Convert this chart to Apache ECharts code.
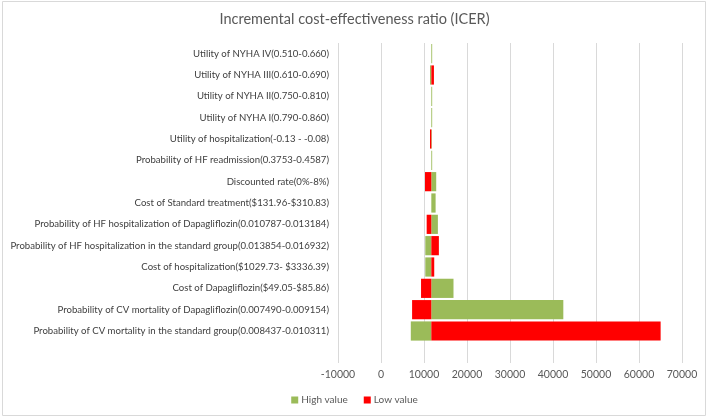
<!DOCTYPE html>
<html>
<head>
<meta charset="utf-8">
<script src="https://cdn.jsdelivr.net/npm/echarts@6/dist/echarts.min.js"></script>
<style>
html,body{margin:0;padding:0;background:#fff;}
#chart{width:709px;height:418px;}
</style>
</head>
<body>
<div id="chart"></div>
<script>
// Categories, displayed top to bottom
var categories = [
  "Utility of NYHA IV(0.510-0.660)",
  "Utility of NYHA III(0.610-0.690)",
  "Utility of NYHA II(0.750-0.810)",
  "Utility of NYHA I(0.790-0.860)",
  "Utility of hospitalization(-0.13 - -0.08)",
  "Probability of HF readmission(0.3753-0.4587)",
  "Discounted rate(0%-8%)",
  "Cost of Standard treatment($131.96-$310.83)",
  "Probability of HF hospitalization of Dapagliflozin(0.010787-0.013184)",
  "Probability of HF hospitalization in the standard group(0.013854-0.016932)",
  "Cost of hospitalization($1029.73- $3336.39)",
  "Cost of Dapagliflozin($49.05-$85.86)",
  "Probability of CV mortality of Dapagliflozin(0.007490-0.009154)",
  "Probability of CV mortality in the standard group(0.008437-0.010311)"
];
var baseICER = 11700;
var highValues = [11900, 11390, 11900, 11900, 11850, 11900, 12840, 12700, 13230, 10300, 10300, 16860, 42400, 6930];
var lowValues  = [11700, 12310, 11700, 11700, 11390, 11700, 10230, 11700, 10620, 13460, 12380, 9310, 7230, 65030];
var xTicks = [-10000, 0, 10000, 20000, 30000, 40000, 50000, 60000, 70000];

var FONT = 'Lato';
var cats = categories.concat(['']);
function offs(arr){ return arr.map(function(v){ return Math.min(v, baseICER); }).concat([null]); }
function lens(arr){ return arr.map(function(v){ return Math.abs(v - baseICER); }).concat([null]); }

var chart = echarts.init(document.getElementById('chart'), null, {renderer:'canvas'});
chart.setOption({
  animation:false,
  textStyle:{fontFamily:FONT},
  graphic:[{type:'rect', shape:{x:2.5,y:1.5,width:703,height:414}, style:{fill:'none', stroke:'#d9d9d9', lineWidth:1}, silent:true}],
  title:{text:'Incremental cost-effectiveness ratio (ICER)', left:'center', top:7,
    textStyle:{fontFamily:FONT, fontSize:14.5, fontWeight:'normal', color:'#595959'}},
  legend:{bottom:8, left:'center', itemWidth:7, itemHeight:7, itemGap:16,
    data:[{name:'High value', icon:'rect'},{name:'Low value', icon:'rect'}],
    textStyle:{fontFamily:FONT, fontSize:10, color:'#595959', padding:[0,0,0,-2]}},
  grid:{left:338, right:27, top:43, bottom:55, containLabel:false},
  xAxis:{type:'value', min:xTicks[0], max:xTicks[xTicks.length-1], interval:10000,
    axisLine:{show:false}, axisTick:{show:false},
    splitLine:{show:true, lineStyle:{color:'#d9d9d9', width:1}},
    axisLabel:{fontFamily:FONT, fontSize:10.5, color:'#595959', margin:6,
      formatter:function(v){ return String(v); }}},
  yAxis:{type:'category', data:cats, inverse:true,
    axisLine:{show:false}, axisTick:{show:false},
    axisLabel:{fontFamily:FONT, fontSize:9.6, color:'#404040', margin:9, interval:0}},
  series:[
    {name:'hOff', type:'bar', stack:'h', data:offs(highValues), itemStyle:{color:'rgba(0,0,0,0)'}, silent:true, barCategoryGap:'10%', barGap:'-100%'},
    {name:'High value', type:'bar', stack:'h', data:lens(highValues), itemStyle:{color:'#9BBB59'}, barGap:'-100%'},
    {name:'lOff', type:'bar', stack:'l', data:offs(lowValues), itemStyle:{color:'rgba(0,0,0,0)'}, silent:true, barGap:'-100%'},
    {name:'Low value', type:'bar', stack:'l', data:lens(lowValues), itemStyle:{color:'#FF0000'}, barGap:'-100%'}
  ]
});
</script>
</body>
</html>
